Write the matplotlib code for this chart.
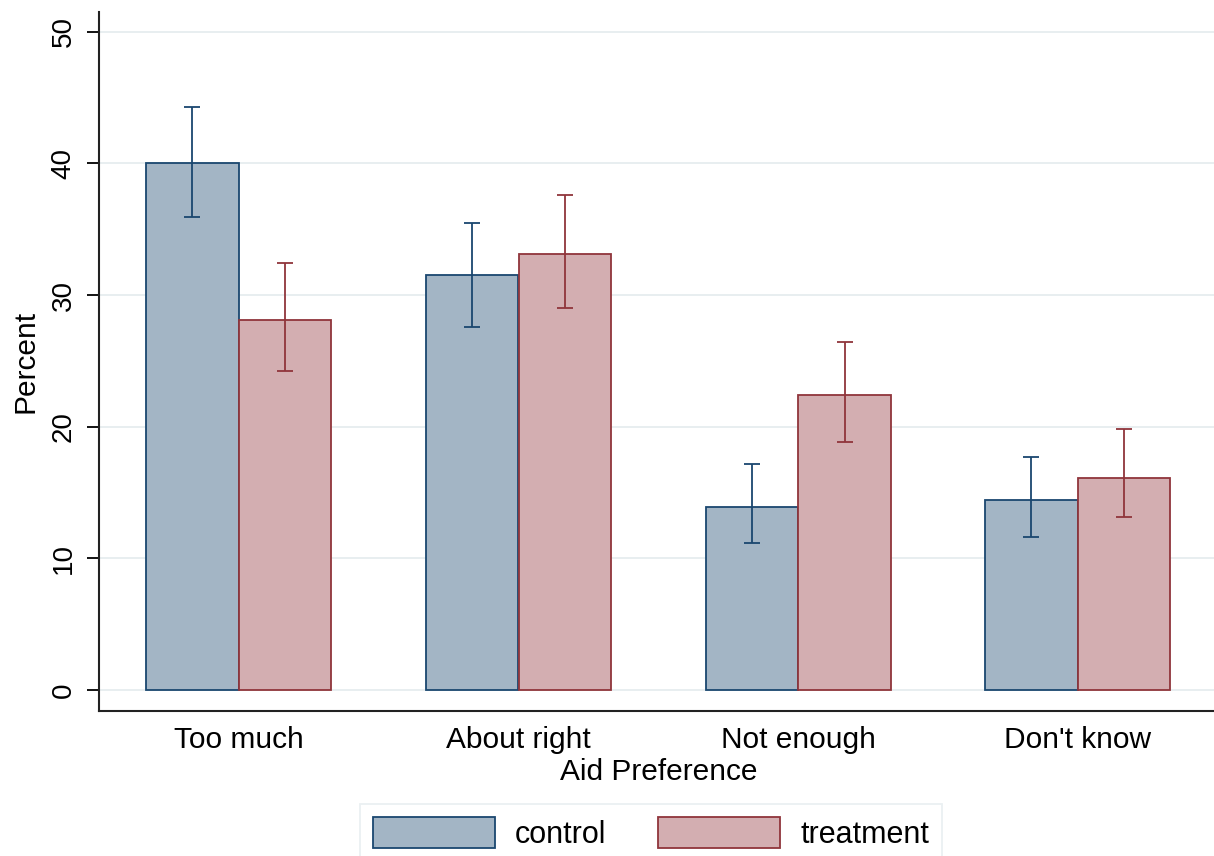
import numpy as np
import matplotlib
matplotlib.use('Agg')
import matplotlib.pyplot as plt

plt.rcParams['font.family'] = ['Liberation Sans', 'DejaVu Sans']

categories = ["Too much", "About right", "Not enough", "Don't know"]
groups = ["control", "treatment"]
control = [40.0, 31.5, 13.9, 14.4]
control_lo = [35.9, 27.6, 11.2, 11.6]
control_hi = [44.3, 35.5, 17.2, 17.7]
treatment = [28.1, 33.1, 22.4, 16.1]
treatment_lo = [24.2, 29.0, 18.8, 13.1]
treatment_hi = [32.4, 37.6, 26.4, 19.8]

navy = '#1a476f'
maroon = '#90353b'
navy_fill = '#a3b5c5'
maroon_fill = '#d3aeb1'
grid_col = '#e6edef'

fig = plt.figure(figsize=(12.14, 8.56), dpi=100)
ax = fig.add_axes([99 / 1214, 1 - 711 / 856, 1 - 99 / 1214 + 0.003, (711 - 12) / 856])

x = np.arange(len(categories))
w = 0.33
off = 0.166

series = [
    (control, control_lo, control_hi, navy_fill, navy, -off),
    (treatment, treatment_lo, treatment_hi, maroon_fill, maroon, off),
]
for (vals, lo, hi, fc, ec, dx), name in zip(series, groups):
    vals = np.array(vals)
    err = [vals - np.array(lo), np.array(hi) - vals]
    ax.bar(x + dx, vals, width=w, color=fc, edgecolor=ec, linewidth=1.3,
           label=name, zorder=2)
    ax.errorbar(x + dx, vals, yerr=err, fmt='none', ecolor=ec,
                elinewidth=1.3, capsize=5.5, capthick=1.3, zorder=3)

ax.set_xlim(-0.5, 3.5)
ax.set_ylim(-1.6, 51.5)
ax.set_yticks([0, 10, 20, 30, 40, 50])
ax.set_xticks(x)
ax.set_xticklabels(categories, fontsize=21.5)
ax.tick_params(axis='x', length=0, pad=11)
ax.tick_params(axis='y', length=9, width=1.3, labelsize=20, labelrotation=90, pad=7)
for lab in ax.get_yticklabels():
    lab.set_verticalalignment('center')
ax.yaxis.grid(True, color=grid_col, linewidth=1.3, zorder=0)
ax.set_axisbelow(True)

for s in ['top', 'right']:
    ax.spines[s].set_visible(False)
for s in ['left', 'bottom']:
    ax.spines[s].set_linewidth(1.5)
    ax.spines[s].set_color('#222222')

ax.set_xlabel('Aid Preference', fontsize=21.5, labelpad=3)
ax.set_ylabel('Percent', fontsize=21.5, labelpad=8)

leg = fig.legend(loc='upper center', bbox_to_anchor=(651 / 1214, 1 - 804 / 856),
                 ncol=2, fontsize=22, frameon=True, fancybox=False,
                 handlelength=4.0, handleheight=1.18, handletextpad=0.65,
                 columnspacing=1.7, borderpad=0.43, borderaxespad=0)
leg.get_frame().set_edgecolor(grid_col)
leg.get_frame().set_linewidth(1.3)

fig.savefig('out.png', dpi=100)
